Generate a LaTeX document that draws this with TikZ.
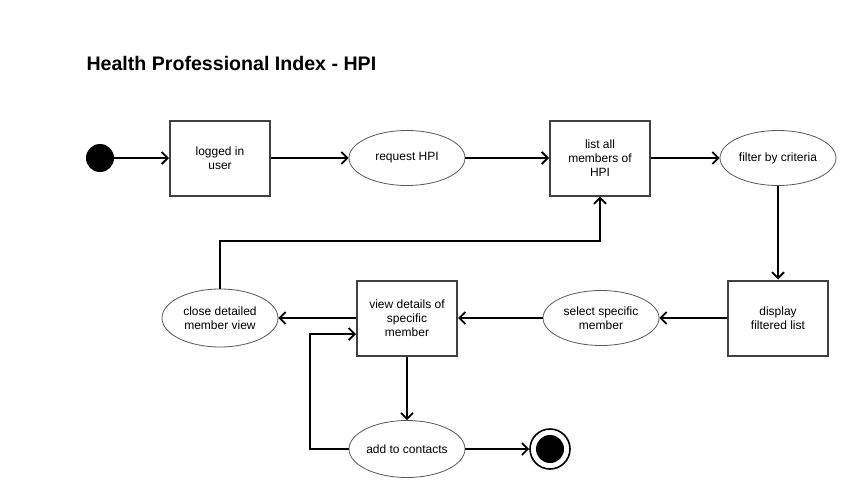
\documentclass[tikz,border=0pt]{standalone}
\usepackage{fontspec}
\setmainfont{Liberation Sans}
\usetikzlibrary{arrows.meta,shapes.geometric}
\begin{document}
\begin{tikzpicture}[x=1pt,y=-1pt,
  lbl/.style={align=center,font=\fontsize{12}{14}\selectfont},
  box/.style={lbl,draw=black!75,line width=2pt,minimum width=100pt,minimum height=75pt,inner sep=0pt},
  oval/.style={lbl,ellipse,draw=black!65,line width=0.8pt,minimum width=116pt,minimum height=55pt,inner sep=0pt},
  flow/.style={line width=1.8pt,-{Straight Barb[length=6pt,width=12pt,line width=1.8pt]}}]
\useasboundingbox (0,0) rectangle (855,498);
\fill[white] (0,0) rectangle (855,498);

\node[anchor=west,font=\fontsize{19.6}{22}\selectfont\bfseries] (title) at (83,63) {Health Professional Index - HPI};

\node[circle,fill=black,minimum size=28pt,inner sep=0pt] (start) at (100,158) {};
\node[box] (logged) at (220,158) {logged in\\user};
\node[oval] (request) at (407,158) {request HPI};
\node[box] (list) at (600,158) {list all\\members of\\HPI};
\node[oval] (filter) at (778,158) {filter by criteria};
\node[box] (display) at (778,318) {display\\filtered list};
\node[oval] (select) at (601,318) {select specific\\member};
\node[box] (view) at (407,318) {view details of\\specific\\member};
\node[oval,minimum height=58pt] (close) at (220,318) {close detailed\\member view};
\node[oval,minimum height=57pt] (add) at (407,449) {add to contacts};
\node[circle,draw=black,line width=1.6pt,minimum size=40pt,inner sep=0pt] (end) at (550,449) {};
\node[circle,fill=black,minimum size=28pt,inner sep=0pt] (endin) at (550,449) {};

\draw[flow] (start) -- (logged);
\draw[flow] (logged) -- (request);
\draw[flow] (request) -- (list);
\draw[flow] (list) -- (filter);
\draw[flow] (filter) -- (display);
\draw[flow] (display) -- (select);
\draw[flow] (select) -- (view);
\draw[flow] (view) -- (close);
\draw[flow] (close.north) -- ++(0,-48) -| (list.south);
\draw[flow] (view) -- (add);
\draw[flow] (add.west) -- ++(-39,0) |- ([yshift=-16pt]view.west);
\draw[flow] (add) -- (end);
\end{tikzpicture}
\end{document}
